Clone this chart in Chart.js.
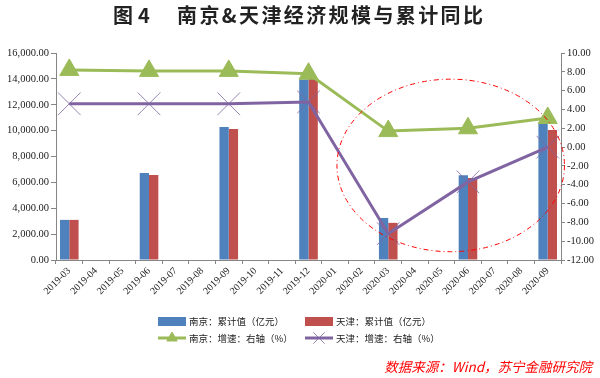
<!DOCTYPE html>
<html>
<head>
<meta charset="utf-8">
<script src="https://cdn.jsdelivr.net/npm/chart.js@4.4.0/dist/chart.umd.min.js"></script>
<style>
  html, body { margin: 0; padding: 0; background: #fff; }
  #wrap { width: 600px; height: 378px; position: relative; }
</style>
</head>
<body>
<div id="wrap"><canvas id="chart1"></canvas></div>
<script>
/* global Chart */

// chart data
const months = ['2019-03', '2019-04', '2019-05', '2019-06', '2019-07', '2019-08', '2019-09', '2019-10', '2019-11', '2019-12',
  '2020-01', '2020-02', '2020-03', '2020-04', '2020-05', '2020-06', '2020-07', '2020-08', '2020-09']
const njValue = [3100, null, null, 6720, null, null, 10280, null, null, 13950, null, null, 3250, null, null, 6550, null, null, 10610]
const tjValue = [3100, null, null, 6570, null, null, 10130, null, null, 14050, null, null, 2870, null, null, 6340, null, null, 10050]
const njGrowth = [8.2, null, null, 8.1, null, null, 8.1, null, null, 7.8, null, null, 1.7, null, null, 2.0, null, null, 3.1]
const tjGrowth = [4.6, null, null, 4.6, null, null, 4.6, null, null, 4.8, null, null, -9.2, null, null, -3.7, null, null, 0.0]
const leftTicks = [0, 16000, 2000]
const rightTicks = [-12, 10, 2]

const titleMain = '南京&天津经济规模与累计同比'
const sourceText = '数据来源：Wind，苏宁金融研究院'

const BLUE = '#4F81BD'
const RED = '#C0504D'
const GREEN = '#9BBB59'
const PURPLE = '#8064A2'
const PURPLE_MARK = 'rgba(128, 100, 162, 0.8)'
const AXIS = '#868686'
const CJK = '"Noto Sans CJK SC", "Noto Sans", sans-serif'
const SERIF = '"Liberation Serif", "DejaVu Serif", serif'

// title, legend, source note and the dash-dot ellipse
const extras = {
  id: 'extras',
  afterDraw (chart) {
    const ctx = chart.ctx
    ctx.save()
    // title
    ctx.fillStyle = '#222'
    ctx.font = `bold 20px ${CJK}`
    ctx.textBaseline = 'middle'
    ctx.textAlign = 'left'
    ctx.fillText('图', 113, 15)
    ctx.fillText('4', 138, 15)
    const w = ctx.measureText(titleMain).width
    const chars = Array.from(titleMain)
    const gap = (306 - w) / (chars.length - 1)
    let x = 177
    chars.forEach(c => {
      ctx.fillText(c, x, 15)
      x += ctx.measureText(c).width + gap
    })

    // ellipse
    const xs = chart.scales.x
    const ys = chart.scales.y1
    const cx = xs.getPixelForValue(14.35)
    const cy = ys.getPixelForValue(-1.95)
    const rx = Math.abs(xs.getPixelForValue(14.35 + 4.28) - cx)
    const ry = Math.abs(ys.getPixelForValue(-1.95 - 9.17) - cy)
    ctx.beginPath()
    ctx.setLineDash([5, 3, 1, 3])
    ctx.strokeStyle = '#FF0000'
    ctx.lineWidth = 1
    ctx.ellipse(cx, cy, rx, ry, 0, 0, Math.PI * 2)
    ctx.stroke()
    ctx.setLineDash([])

    // legend, 2 x 2
    const cols = [158, 305]
    const rows = [321.5, 338]
    ctx.font = `9.5px ${CJK}`
    chart.data.datasets.forEach((d, i) => {
      const lx = cols[i % 2]
      const ly = rows[Math.floor(i / 2)]
      if (d.type === 'bar') {
        ctx.fillStyle = d.backgroundColor
        ctx.fillRect(lx, ly - 4.5, 28, 9)
      }
      else {
        ctx.strokeStyle = d.borderColor
        ctx.lineWidth = 3
        ctx.beginPath()
        ctx.moveTo(lx, ly)
        ctx.lineTo(lx + 28, ly)
        ctx.stroke()
        ctx.lineWidth = 1
        ctx.fillStyle = d.pointBackgroundColor
        ctx.strokeStyle = d.pointBorderColor
        Chart.helpers.drawPoint(ctx, {
          pointStyle: d.pointStyle,
          radius: d.pointStyle === 'triangle' ? 6 : 8,
          rotation: 0,
          borderWidth: 1
        }, lx + 14, ly)
      }
      ctx.fillStyle = '#222'
      ctx.fillText(d.label, lx + 31, ly)
    })

    // source note
    ctx.fillStyle = '#FF0000'
    ctx.font = `italic 13.5px ${CJK}`
    ctx.textAlign = 'right'
    ctx.fillText(sourceText, 592, 367)
    ctx.restore()
  }
}

const config = {
  type: 'bar',
  data: {
    labels: months,
    datasets: [
      {
        type: 'bar',
        label: '南京：累计值（亿元）',
        data: njValue,
        backgroundColor: BLUE,
        yAxisID: 'y',
        order: 2,
        categoryPercentage: 0.7,
        barPercentage: 1.0
      },
      {
        type: 'bar',
        label: '天津：累计值（亿元）',
        data: tjValue,
        backgroundColor: RED,
        yAxisID: 'y',
        order: 2,
        categoryPercentage: 0.7,
        barPercentage: 1.0
      },
      {
        type: 'line',
        label: '南京：增速：右轴（%）',
        data: njGrowth,
        borderColor: GREEN,
        borderWidth: 3,
        backgroundColor: GREEN,
        pointStyle: 'triangle',
        pointRadius: 11,
        pointBackgroundColor: GREEN,
        pointBorderColor: GREEN,
        pointBorderWidth: 1,
        spanGaps: true,
        tension: 0,
        yAxisID: 'y1',
        order: 0
      },
      {
        type: 'line',
        label: '天津：增速：右轴（%）',
        data: tjGrowth,
        borderColor: PURPLE,
        borderWidth: 3,
        backgroundColor: PURPLE_MARK,
        pointStyle: 'crossRot',
        pointRadius: 16,
        pointBackgroundColor: PURPLE_MARK,
        pointBorderColor: PURPLE_MARK,
        pointBorderWidth: 1,
        spanGaps: true,
        tension: 0,
        yAxisID: 'y1',
        order: 1
      }
    ]
  },
  options: {
    responsive: false,
    animation: false,
    devicePixelRatio: 1,
    layout: { padding: { top: 53, left: 0, right: 0, bottom: 0 } },
    plugins: {
      legend: { display: false },
      title: { display: false },
      tooltip: { enabled: false }
    },
    scales: {
      x: {
        offset: true,
        afterFit: s => { s.height = 118 },
        border: { display: true, color: AXIS, width: 1 },
        grid: { offset: true, drawOnChartArea: false, drawTicks: true, tickLength: 4, color: AXIS },
        ticks: {
          autoSkip: false,
          minRotation: 45,
          maxRotation: 45,
          padding: 1,
          color: '#222',
          font: { family: SERIF, size: 10 }
        }
      },
      y: {
        position: 'left',
        min: leftTicks[0],
        max: leftTicks[1],
        afterFit: s => { s.width = 56 },
        border: { display: true, color: AXIS, width: 1 },
        grid: { drawOnChartArea: false, drawTicks: true, tickLength: 5, color: AXIS },
        ticks: {
          stepSize: leftTicks[2],
          padding: 2,
          color: '#222',
          font: { family: SERIF, size: 10.5 },
          callback: v => v.toLocaleString('en-US', { minimumFractionDigits: 2, maximumFractionDigits: 2 })
        }
      },
      y1: {
        position: 'right',
        min: rightTicks[0],
        max: rightTicks[1],
        afterFit: s => { s.width = 39 },
        border: { display: true, color: AXIS, width: 1 },
        grid: { drawOnChartArea: false, drawTicks: true, tickLength: 4, color: AXIS },
        ticks: {
          stepSize: rightTicks[2],
          padding: 2,
          color: '#222',
          font: { family: SERIF, size: 10.5 },
          callback: v => v.toFixed(2)
        }
      }
    }
  },
  plugins: [extras]
}

const canvas = document.getElementById('chart1')
canvas.width = 600
canvas.height = 378
const chart1 = new Chart(canvas, config)
</script>
</body>
</html>
